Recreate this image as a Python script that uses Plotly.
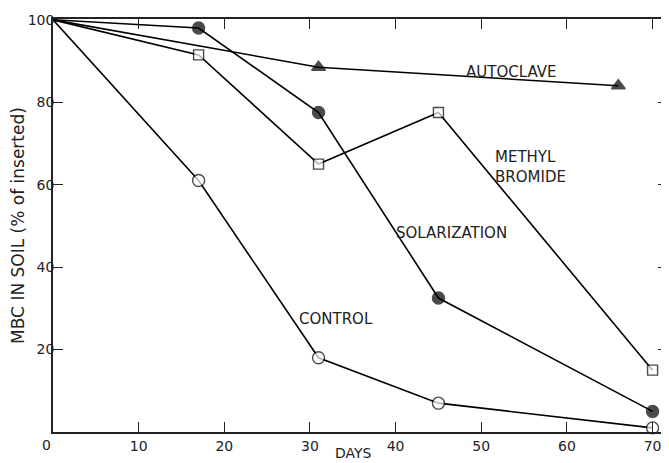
import plotly.graph_objects as go

days_control = [0, 17, 31, 45, 70]
control = [100, 61, 18, 7, 1]
days_solar = [0, 17, 31, 45, 70]
solarization = [100, 98, 77.5, 32.5, 5]
days_mb = [0, 17, 31, 45, 70]
methyl_bromide = [100, 91.5, 65, 77.5, 15]
days_auto = [0, 31, 66]
autoclave = [100, 88.5, 84]

x_ticks = [10, 20, 30, 40, 50, 60, 70]
y_ticks = [20, 40, 60, 80, 100]

FONT = "DejaVu Sans"
INK = "#222"
fig = go.Figure()

def add(x, y, symbol, fill, size):
    fig.add_trace(go.Scatter(
        x=x, y=y, mode="lines+markers",
        line=dict(color="black", width=1.6),
        marker=dict(symbol=symbol, size=[0] + [size] * (len(x) - 1),
                    color=fill, line=dict(color="black", width=1.4)),
        showlegend=False, cliponaxis=False))

add(days_control, control, "circle", "white", 12)
add(days_mb, methyl_bromide, "square", "white", 10)
add(days_solar, solarization, "circle", "black", 12)
add(days_auto, autoclave, "triangle-up", "black", 12)

labels = [
    (53.5, 87.3, "AUTOCLAVE", "center"),
    (51.4, 64.3, "METHYL<br>BROMIDE", "left"),
    (46.5, 48.2, "SOLARIZATION", "center"),
    (33.0, 27.4, "CONTROL", "center"),
]
for x, y, t, al in labels:
    fig.add_annotation(x=x, y=y, text=t, showarrow=False, align=al,
                       xanchor="left" if al == "left" else "center",
                       font=dict(family=FONT, size=15, color=INK))

fig.add_annotation(x=0, y=0, text="0", showarrow=False, xanchor="center",
                   yanchor="top", xshift=-7, yshift=-3,
                   font=dict(family=FONT, size=14, color=INK))
fig.add_annotation(xref="paper", yref="paper", x=0.488, y=0, yanchor="top",
                   yshift=-11, text="DAYS", showarrow=False,
                   font=dict(family=FONT, size=14, color=INK))

fig.update_xaxes(range=[0, 71.8], tickvals=x_ticks, ticks="inside", ticklen=10,
                 tickwidth=1.3, tickcolor=INK, showline=True, linecolor=INK,
                 linewidth=1.6, mirror="ticks", showgrid=False, zeroline=False,
                 automargin=False,
                 tickfont=dict(family=FONT, size=14, color=INK))
fig.update_yaxes(range=[0, 100.2], tickvals=y_ticks, ticks="inside", ticklen=10,
                 tickwidth=1.3, tickcolor=INK, showline=True, linecolor=INK,
                 linewidth=1.6, mirror="ticks", showgrid=False, zeroline=False,
                 automargin=False, ticklabelstandoff=-6,
                 tickfont=dict(family=FONT, size=14, color=INK),
                 title=dict(text="MBC IN SOIL (% of inserted)",
                            font=dict(family=FONT, size=17, color=INK), standoff=0))

# page has an 8px body margin, so the figure is sized to fit inside it
fig.update_layout(width=661, height=455, plot_bgcolor="white", paper_bgcolor="white",
                  margin=dict(l=45, r=1, t=11, b=31))

fig.write_html("out.html")
